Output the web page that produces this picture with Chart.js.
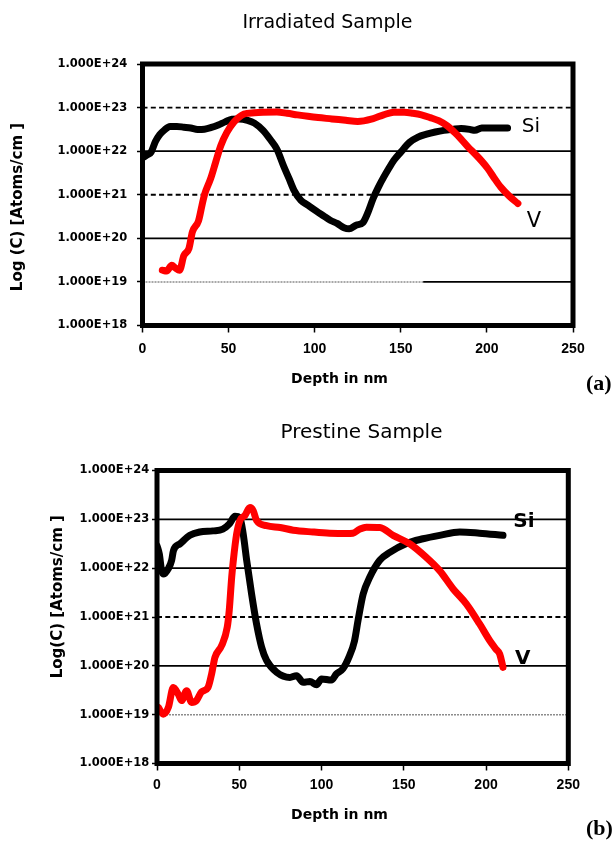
<!DOCTYPE html>
<html><head><meta charset="utf-8">
<script src="https://cdn.jsdelivr.net/npm/chart.js@4.4.0/dist/chart.umd.min.js"></script>
<style>
html,body{margin:0;padding:0;background:#fff;}
#wrap{position:relative;width:616px;height:842px;overflow:hidden;background:#fff;}
canvas{position:absolute;left:0;}
</style></head><body>
<div id="wrap">
<canvas id="c1" width="616" height="420" style="top:0px"></canvas>
<canvas id="c2" width="616" height="422" style="top:420px"></canvas>
</div>
<script>
// ---------------- DATA ----------------
const depthTicks = [0, 50, 100, 150, 200, 250];
const concTicks = [1e18, 1e19, 1e20, 1e21, 1e22, 1e23, 1e24];
const concTickLabels = ['1.000E+18','1.000E+19','1.000E+20','1.000E+21','1.000E+22','1.000E+23','1.000E+24'];

const titleA = 'Irradiated Sample';
const titleB = 'Prestine Sample';
const yTitleA = 'Log (C) [Atoms/cm ]';
const yTitleB = 'Log(C) [Atoms/cm ]';
const xTitle = 'Depth in nm';
const seriesNames = ['Si', 'V'];
const panelTags = ['(a)', '(b)'];

// (a) Irradiated sample
const irrSiDepth = [0.5,3,5,7.5,10,12.5,16,20,24,28,32,36,40,44,48,52,56,61,65,70,74,78,82,85,88,92,96,101,105,109,113,117,120,124,128,131,134,137,140,143,146,150,155,160,165,170,175,180,185,190,193,197,202,207,212];
const irrSiConc = [7.2e21,8.3e21,9.5e21,1.66e22,2.4e22,3.0e22,3.7e22,3.7e22,3.55e22,3.4e22,3.16e22,3.2e22,3.5e22,4.0e22,4.7e22,5.4e22,5.5e22,5.1e22,4.4e22,3.0e22,1.9e22,1.12e22,4.5e21,2.4e21,1.26e21,7.4e20,5.8e20,4.2e20,3.3e20,2.6e20,2.2e20,1.75e20,1.65e20,2.0e20,2.3e20,4.0e20,8.3e20,1.5e21,2.5e21,4.0e21,6.2e21,9.5e21,1.58e22,2.1e22,2.45e22,2.75e22,3.0e22,3.16e22,3.3e22,3.16e22,3.0e22,3.4e22,3.4e22,3.4e22,3.4e22];
const irrVDepth = [11.5,14,17,19,21.5,24,27,29,32.5,34.5,36,39.5,42.5,45.5,49,53,56,59,65,70,78,84,90,96,102,110,118,125,134,140,146,152,157,162,167,172,177,181,185,189,193,197,200.5,204,208,213,218];
const irrVConc = [1.86e19,1.78e19,2.4e19,2.1e19,1.86e19,4.0e19,5.9e19,1.41e20,2.5e20,5.6e20,1.0e21,2.3e21,5.6e21,1.35e22,2.7e22,4.6e22,6.0e22,7.1e22,7.6e22,7.8e22,7.9e22,7.4e22,6.8e22,6.3e22,5.9e22,5.5e22,5.1e22,4.8e22,5.6e22,6.8e22,7.8e22,7.8e22,7.4e22,6.8e22,5.9e22,5.0e22,3.8e22,2.75e22,1.9e22,1.26e22,8.7e21,5.9e21,4.0e21,2.5e21,1.5e21,9.3e20,6.3e20];

// (b) Pristine sample
const priSiDepth = [0,1.4,2.8,4.2,6.9,8.9,10,14,20,26,34,40,44,47.4,50.4,52.4,54.5,57.5,60.5,63.6,66.6,72.7,80.8,84.8,88.9,92.9,97,100,106,109,113,117,120,122.2,125.3,129.3,135.4,141.5,151.6,161.7,171.8,184,196,210.3];
const priSiConc = [2.9e22,1.95e22,8.9e21,7.6e21,9.8e21,1.45e22,2.3e22,3.16e22,4.7e22,5.5e22,5.8e22,6.3e22,8.1e22,1.15e23,1.07e23,5.0e22,1.45e22,2.95e21,7.2e20,2.4e20,1.29e20,7.4e19,5.8e19,6.3e19,4.6e19,4.8e19,4.1e19,5.4e19,5.1e19,6.8e19,8.7e19,1.6e20,3.2e20,8.5e20,2.95e21,6.5e21,1.45e22,2.1e22,3.2e22,4.0e22,4.7e22,5.5e22,5.2e22,4.7e22];
const priVDepth = [0.8,3.8,6.9,9.9,13,15,18,21,24,27,31,33.2,35.2,39.3,42.7,43.9,45.4,46.4,48.4,50.4,53.4,56.5,58.5,60.5,66.6,74.9,82.8,94.9,105,115,119,123.3,127.3,135.4,143.5,153.6,163.7,171.8,179.9,188,196.1,202.2,206,208.3,210.3];
const priVConc = [1.41e19,1.02e19,1.41e19,3.6e19,2.6e19,1.95e19,3.1e19,1.78e19,1.95e19,2.9e19,3.6e19,6.8e19,1.48e20,2.6e20,6.2e20,1.35e21,6.5e21,1.45e22,5.0e22,9.5e22,1.2e23,1.74e23,1.5e23,9.5e22,7.4e22,6.8e22,6.0e22,5.5e22,5.2e22,5.1e22,5.2e22,6.3e22,6.9e22,6.8e22,4.7e22,3.16e22,1.66e22,8.9e21,3.8e21,1.86e21,7.2e20,3.3e20,2.2e20,1.74e20,9.3e19];

// ---------------- STYLE ----------------
const lineStyles = {
  solid: {color:'#000', width:1.8, dash:[]},
  dash:  {color:'#000', width:1.8, dash:[5,3.3]},
  dot:   {color:'#8c8c8c', width:1.5, dash:[2,1]}
};
const gridA = [
  {value:1e23, segs:[[0,250,'dash']]},
  {value:1e22, segs:[[0,250,'solid']]},
  {value:1e21, segs:[[0,136,'dash'],[136,250,'solid']]},
  {value:1e20, segs:[[0,250,'solid']]},
  {value:1e19, segs:[[0,163,'dot'],[163,250,'solid']]}
];
const gridB = [
  {value:1e23, segs:[[0,250,'solid']]},
  {value:1e22, segs:[[0,250,'solid']]},
  {value:1e21, segs:[[0,250,'dash']]},
  {value:1e20, segs:[[0,250,'solid']]},
  {value:1e19, segs:[[0,250,'dot']]}
];

function pts(xs, ys){ return xs.map((d,i)=>({x:d, y:ys[i]})); }

function gridPlugin(spec){
  return {id:'decadeGrid', beforeDatasetsDraw(chart){
    const {ctx, scales:{x, y}} = chart;
    spec.forEach(g=>{
      const py = y.getPixelForValue(g.value);
      g.segs.forEach(([a,b,st])=>{
        const s = lineStyles[st];
        ctx.save();
        ctx.strokeStyle = s.color; ctx.lineWidth = s.width; ctx.setLineDash(s.dash);
        ctx.beginPath();
        ctx.moveTo(x.getPixelForValue(a), py);
        ctx.lineTo(x.getPixelForValue(b), py);
        ctx.stroke();
        ctx.restore();
      });
    });
  }};
}
const borderPlugin = {id:'frame', afterDatasetsDraw(chart){
  const {ctx, chartArea:a} = chart;
  ctx.save(); ctx.strokeStyle='#000'; ctx.lineWidth=5; ctx.setLineDash([]);
  ctx.strokeRect(a.left, a.top, a.right-a.left, a.bottom-a.top);
  ctx.restore();
}};
function textPlugin(items){
  return {id:'texts', afterDraw(chart){
    const ctx = chart.ctx;
    items.forEach(t=>{
      ctx.save();
      ctx.font = t.font; ctx.fillStyle = '#000';
      ctx.textAlign = t.align || 'left';
      ctx.textBaseline = t.baseline || 'alphabetic';
      ctx.translate(t.x, t.y);
      if (t.rot) ctx.rotate(t.rot*Math.PI/180);
      ctx.fillText(t.text, 0, 0);
      ctx.restore();
    });
  }};
}

function makeChart(id, c){
  const H = document.getElementById(id).height;
  const yW = 100, xH = 30;
  new Chart(document.getElementById(id), {
    type:'line',
    data:{datasets:[
      {label:seriesNames[1], data:pts(c.vDepth, c.vConc), borderColor:'#ff0000', borderWidth:7, pointRadius:0,
       cubicInterpolationMode:'monotone', borderCapStyle:'round', borderJoinStyle:'round', order:0, fill:false},
      {label:seriesNames[0], data:pts(c.siDepth, c.siConc), borderColor:'#000000', borderWidth:7, pointRadius:0,
       cubicInterpolationMode:'monotone', borderCapStyle:'round', borderJoinStyle:'round', order:1, fill:false}
    ]},
    options:{
      responsive:false, animation:false, devicePixelRatio:1,
      layout:{padding:{left:c.area.left - yW, right:616 - c.area.right, top:c.area.top, bottom:H - c.area.bottom - xH}},
      plugins:{legend:{display:false}, tooltip:{enabled:false}, title:{display:false}},
      scales:{
        x:{type:'linear', min:0, max:250,
           afterBuildTicks:s=>{ s.ticks = depthTicks.map(v=>({value:v})); },
           afterFit:s=>{ s.height = xH; },
           grid:{display:true, drawOnChartArea:false, drawTicks:true, tickLength:7, tickColor:'#000', tickWidth:1.5},
           border:{display:false},
           ticks:{color:'#000', padding:c.xTickPad, maxRotation:0, autoSkip:false,
                  font:{family:'Liberation Sans', weight:'bold', size:14},
                  callback:(v)=>String(v)}},
        y:{type:'logarithmic', min:1e18, max:1e24,
           afterBuildTicks:s=>{ s.ticks = concTicks.map(v=>({value:v})); },
           afterFit:s=>{ s.width = yW; },
           grid:{display:true, drawOnChartArea:false, drawTicks:true, tickLength:c.yTickLen, tickColor:'#000', tickWidth:1.5},
           border:{display:false},
           ticks:{color:'#000', padding:c.yTickPad, autoSkip:false,
                  font:{family:'DejaVu Sans', weight:'bold', size:11.5},
                  callback:(v,i)=>concTickLabels[i]}}
      }
    },
    plugins:[gridPlugin(c.grid), borderPlugin, textPlugin(c.texts)]
  });
}

makeChart('c1', {
  siDepth:irrSiDepth, siConc:irrSiConc, vDepth:irrVDepth, vConc:irrVConc,
  area:{left:142.5, right:573, top:64, bottom:325.5},
  xTickPad:8.5, yTickPad:9.7, yTickLen:5.5, grid:gridA,
  texts:[
    {text:titleA, x:327.5, y:28, font:'19px "DejaVu Sans"', align:'center'},
    {text:yTitleA, x:21.7, y:207, font:'bold 15px "DejaVu Sans"', align:'center', rot:-90},
    {text:xTitle, x:339.5, y:383, font:'bold 14px "DejaVu Sans"', align:'center'},
    {text:panelTags[0], x:586, y:389.5, font:'bold 22px "Liberation Serif"', align:'left'},
    {text:seriesNames[0], x:521.7, y:131.7, font:'20px "DejaVu Sans"', align:'left'},
    {text:seriesNames[1], x:526.7, y:226.7, font:'21px "DejaVu Sans"', align:'left'}
  ]
});

makeChart('c2', {
  siDepth:priSiDepth, siConc:priSiConc, vDepth:priVDepth, vConc:priVConc,
  area:{left:157, right:568.3, top:50.5, bottom:343.5},
  xTickPad:6.4, yTickPad:2.7, yTickLen:5, grid:gridB,
  texts:[
    {text:titleB, x:361.5, y:18, font:'20px "DejaVu Sans"', align:'center'},
    {text:yTitleB, x:61.5, y:176.7, font:'bold 15px "DejaVu Sans"', align:'center', rot:-90},
    {text:xTitle, x:339.5, y:399, font:'bold 14px "DejaVu Sans"', align:'center'},
    {text:panelTags[1], x:586, y:415, font:'bold 22px "Liberation Serif"', align:'left'},
    {text:seriesNames[0], x:513.3, y:106.7, font:'bold 20px "DejaVu Sans"', align:'left'},
    {text:seriesNames[1], x:515, y:244, font:'bold 20px "DejaVu Sans"', align:'left'}
  ]
});
</script>
</body></html>
